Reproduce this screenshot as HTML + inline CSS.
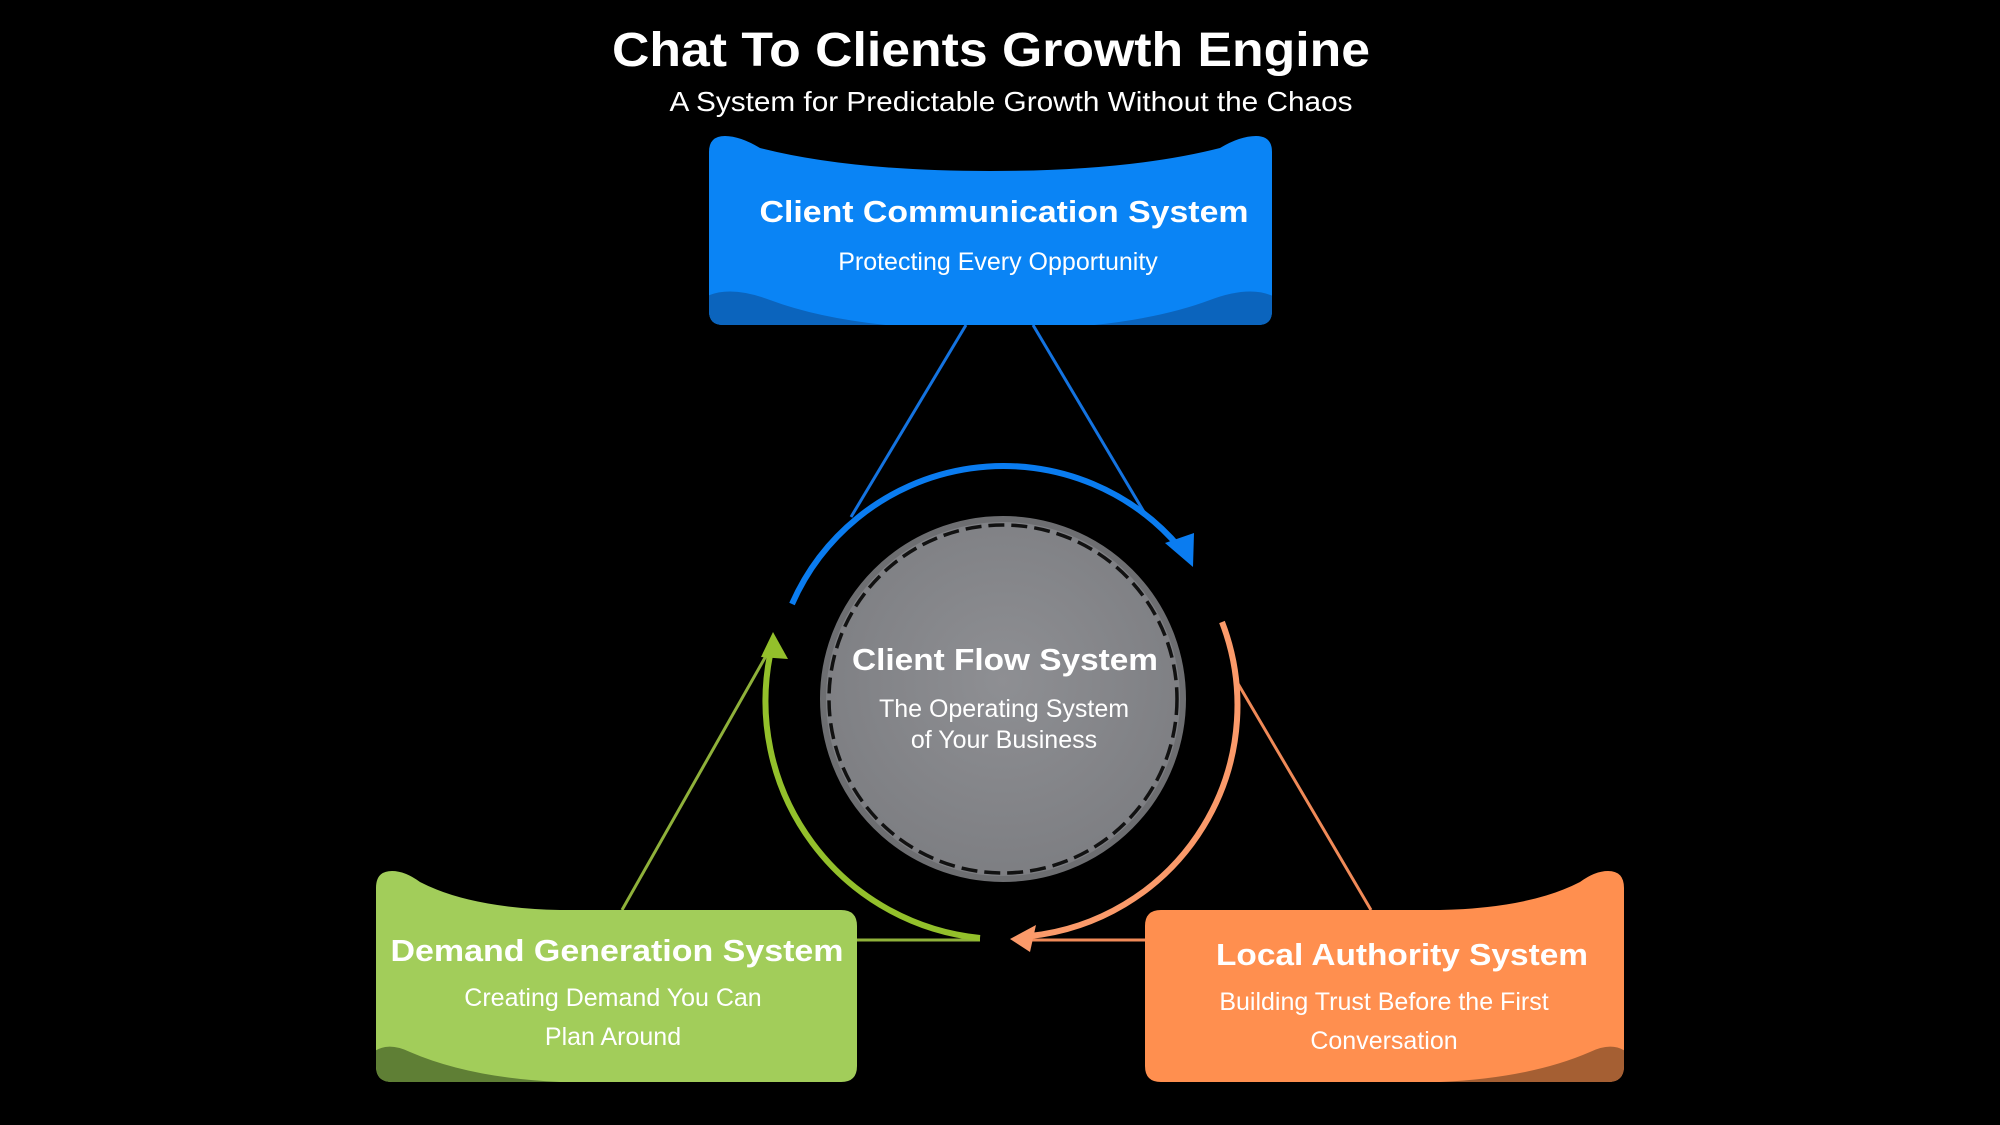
<!DOCTYPE html>
<html><head><meta charset="utf-8"><style>
html,body{margin:0;padding:0;background:#000;}
svg{display:block}
.t{font-family:"Liberation Sans",sans-serif;fill:#fff;text-anchor:middle}
</style></head><body>
<svg width="2000" height="1125" viewBox="0 0 2000 1125" xmlns="http://www.w3.org/2000/svg">
<defs>
<radialGradient id="cg" cx="50%" cy="45%" r="55%"><stop offset="0" stop-color="#8e8f93"/><stop offset="1" stop-color="#7d7e82"/></radialGradient>
<clipPath id="cb"><path d="M709,152 Q709,136 725,136 Q740,136 760,148 Q850,171 990,171 Q1130,171 1220,148 Q1240,136 1256,136 Q1272,136 1272,152 L1272,311 Q1272,325 1258,325 L723,325 Q709,325 709,311 Z"/></clipPath>
<clipPath id="cgr"><path d="M376,888 Q376,871 392,871 Q405,871 420,882 Q470,908 560,910 L841,910 Q857,910 857,926 L857,1066 Q857,1082 841,1082 L392,1082 Q376,1082 376,1066 Z"/></clipPath>
<clipPath id="co"><path d="M1161,910 L1440,910 Q1530,908 1580,882 Q1595,871 1608,871 Q1624,871 1624,888 L1624,1066 Q1624,1082 1608,1082 L1161,1082 Q1145,1082 1145,1066 L1145,926 Q1145,910 1161,910 Z"/></clipPath>
</defs>

<text class="t" x="991" y="66" font-size="48" font-weight="bold" textLength="758" lengthAdjust="spacingAndGlyphs">Chat To Clients Growth Engine</text>
<text class="t" x="1011" y="111" font-size="28" textLength="683" lengthAdjust="spacingAndGlyphs">A System for Predictable Growth Without the Chaos</text>

<line x1="966" y1="325" x2="851" y2="517" stroke="#1473e0" stroke-width="3"/>
<line x1="1033" y1="325" x2="1144" y2="512" stroke="#1473e0" stroke-width="3"/>
<line x1="1237" y1="682" x2="1371" y2="910" stroke="#f08a58" stroke-width="3"/>
<line x1="622" y1="910" x2="775" y2="640" stroke="#8fb13a" stroke-width="3"/>
<line x1="856" y1="940" x2="980" y2="940" stroke="#8fb13a" stroke-width="3"/>
<line x1="1020" y1="940" x2="1148" y2="940" stroke="#f08a58" stroke-width="3"/>

<path d="M792,604 A231,231 0 0 1 1180,548" fill="none" stroke="#0a7cf0" stroke-width="6"/>
<polygon points="1165,543 1193,567 1194,533" fill="#0a7cf0"/>
<path d="M1222,622 A232,232 0 0 1 1030,936" fill="none" stroke="#fb9a6a" stroke-width="6"/>
<polygon points="1010,939 1036,925 1030,952" fill="#fb9a6a"/>
<path d="M980,938 A238,238 0 0 1 770,655" fill="none" stroke="#93c02b" stroke-width="6"/>
<polygon points="773,632 788,659 761,657" fill="#93c02b"/>

<circle cx="1003" cy="699" r="180" fill="url(#cg)" stroke="#6d6e71" stroke-width="6"/>
<circle cx="1003" cy="699" r="174" fill="none" stroke="#111" stroke-width="3.5" stroke-dasharray="16 7"/>
<text class="t" x="1005" y="670" font-size="31" font-weight="bold" textLength="306" lengthAdjust="spacingAndGlyphs">Client Flow System</text>
<text class="t" x="1004" y="717" font-size="25">The Operating System</text>
<text class="t" x="1004" y="748" font-size="25">of Your Business</text>

<g clip-path="url(#cb)">
<rect x="700" y="130" width="580" height="200" fill="#0a84f5"/>
<path d="M700,340 L700,300 Q725,283 770,300 Q850,330 990,330 Q1130,330 1210,300 Q1255,283 1280,300 L1280,340 Z" fill="#0b64bd"/>
</g>
<text class="t" x="1004" y="222" font-size="31" font-weight="bold" textLength="489" lengthAdjust="spacingAndGlyphs">Client Communication System</text>
<text class="t" x="998" y="270" font-size="25">Protecting Every Opportunity</text>

<g clip-path="url(#cgr)">
<rect x="370" y="860" width="500" height="230" fill="#a2cd5a"/>
<path d="M370,1090 L370,1055 Q385,1040 410,1052 Q470,1078 560,1082 L560,1090 Z" fill="#5f7f35"/>
</g>
<text class="t" x="617" y="961" font-size="31" font-weight="bold" textLength="453" lengthAdjust="spacingAndGlyphs">Demand Generation System</text>
<text class="t" x="613" y="1006" font-size="25">Creating Demand You Can</text>
<text class="t" x="613" y="1045" font-size="25">Plan Around</text>

<g clip-path="url(#co)">
<rect x="1140" y="860" width="500" height="230" fill="#ff8f4f"/>
<path d="M1630,1090 L1630,1055 Q1615,1040 1590,1052 Q1530,1078 1440,1082 L1440,1090 Z" fill="#a55f33"/>
</g>
<text class="t" x="1402" y="965" font-size="31" font-weight="bold" textLength="372" lengthAdjust="spacingAndGlyphs">Local Authority System</text>
<text class="t" x="1384" y="1010" font-size="25">Building Trust Before the First</text>
<text class="t" x="1384" y="1049" font-size="25">Conversation</text>
</svg>
</body></html>
